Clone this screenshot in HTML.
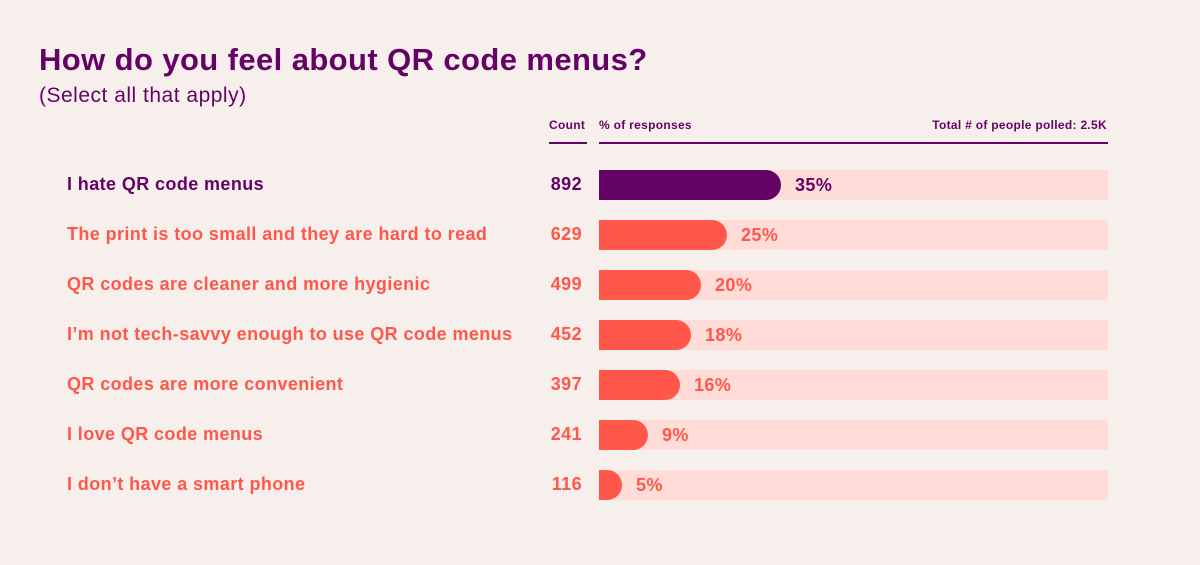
<!DOCTYPE html>
<html><head><style>
body{margin:0;width:1200px;height:565px;background:#f7efec;font-family:"Liberation Sans",sans-serif;position:relative;overflow:hidden}
.a{position:absolute;white-space:nowrap}
.t{left:39px;top:42px;font-size:31px;font-weight:bold;color:#650266;letter-spacing:0.4px}
.s{left:39px;top:84px;font-size:21px;color:#650266;letter-spacing:0.5px}
.h{top:118px;font-size:12px;font-weight:bold;color:#650266;letter-spacing:0.3px}
.ln{position:absolute;height:1.5px;background:#650266;top:142px}
.lab{left:67px;font-size:18px;font-weight:bold;color:#ff574a;letter-spacing:0.4px}
.cnt{left:530px;width:52px;text-align:right;font-size:18px;font-weight:bold;color:#ff574a;letter-spacing:0.4px}
.tr{position:absolute;left:599px;width:509px;height:30px;background:#ffdcd7}
.b{position:absolute;left:599px;height:30px;background:#ff574a;border-radius:0 15px 15px 0}
.p{font-size:18px;font-weight:bold;color:#ff574a;letter-spacing:0.4px}
</style></head><body>
<div class="a t">How do you feel about QR code menus?</div>
<div class="a s">(Select all that apply)</div>
<div class="a h" style="left:549px">Count</div>
<div class="a h" style="left:599px">% of responses</div>
<div class="a h" style="right:93px">Total # of people polled: 2.5K</div>
<div class="ln" style="left:549px;width:38px"></div>
<div class="ln" style="left:599px;width:509px"></div>

<div class="tr" style="top:170px"></div><div class="b" style="top:170px;width:182px;background:#650266"></div>
<div class="a lab" style="top:174px;color:#650266">I hate QR code menus</div><div class="a cnt" style="top:174px;color:#650266">892</div><div class="a p" style="top:175px;left:795px;color:#650266">35%</div>

<div class="tr" style="top:220px"></div><div class="b" style="top:220px;width:128px"></div>
<div class="a lab" style="top:224px">The print is too small and they are hard to read</div><div class="a cnt" style="top:224px">629</div><div class="a p" style="top:225px;left:741px">25%</div>

<div class="tr" style="top:270px"></div><div class="b" style="top:270px;width:102px"></div>
<div class="a lab" style="top:274px">QR codes are cleaner and more hygienic</div><div class="a cnt" style="top:274px">499</div><div class="a p" style="top:275px;left:715px">20%</div>

<div class="tr" style="top:320px"></div><div class="b" style="top:320px;width:92px"></div>
<div class="a lab" style="top:324px">I’m not tech-savvy enough to use QR code menus</div><div class="a cnt" style="top:324px">452</div><div class="a p" style="top:325px;left:705px">18%</div>

<div class="tr" style="top:370px"></div><div class="b" style="top:370px;width:81px"></div>
<div class="a lab" style="top:374px">QR codes are more convenient</div><div class="a cnt" style="top:374px">397</div><div class="a p" style="top:375px;left:694px">16%</div>

<div class="tr" style="top:420px"></div><div class="b" style="top:420px;width:49px"></div>
<div class="a lab" style="top:424px">I love QR code menus</div><div class="a cnt" style="top:424px">241</div><div class="a p" style="top:425px;left:662px">9%</div>

<div class="tr" style="top:470px"></div><div class="b" style="top:470px;width:23px"></div>
<div class="a lab" style="top:474px">I don’t have a smart phone</div><div class="a cnt" style="top:474px">116</div><div class="a p" style="top:475px;left:636px">5%</div>
</body></html>
